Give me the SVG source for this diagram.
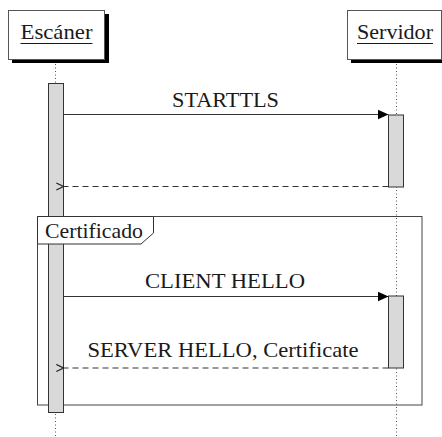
<svg xmlns="http://www.w3.org/2000/svg" width="442" height="437" viewBox="0 0 442 437">
  <style>
    .lbl { font-family: "Liberation Serif", "DejaVu Serif", serif; font-size: 21px; fill: #1a1a1a; }
    .head { fill: #ffffff; stroke: #555555; stroke-width: 1; }
    .shadow { fill: #000000; }
    .life { stroke: #555555; stroke-width: 1; stroke-dasharray: 1 2.5; fill: none; }
    .act { fill: #d9d9d9; stroke: #333333; stroke-width: 1; }
    .msg { stroke: #333333; stroke-width: 1.2; fill: none; }
    .ret { stroke: #333333; stroke-width: 1.2; fill: none; stroke-dasharray: 6 4; }
    .frame { fill: none; stroke: #444444; stroke-width: 1; }
    .ul { stroke: #1a1a1a; stroke-width: 1; }
  </style>
  <defs>
    <marker id="solidHead" viewBox="0 0 10 10" refX="10" refY="5" markerWidth="11" markerHeight="11" markerUnits="userSpaceOnUse" orient="auto">
      <path d="M0,0.5 L10,5 L0,9.5 Z" fill="#000000"/>
    </marker>
    <marker id="openHead" viewBox="0 0 10 10" refX="1" refY="5" markerWidth="9" markerHeight="9" markerUnits="userSpaceOnUse" orient="auto">
      <path d="M9,1 L1,5 L9,9" fill="none" stroke="#222222" stroke-width="1.3"/>
    </marker>
  </defs>

  <!-- lifelines -->
  <g id="lifelines">
    <line class="life" x1="55.5" y1="64" x2="55.5" y2="437"/>
    <line class="life" x1="396.5" y1="64" x2="396.5" y2="437"/>
  </g>

  <!-- participant: Escáner -->
  <g id="escaner">
    <rect class="shadow" x="12" y="14" width="97" height="49"/>
    <rect class="head" x="8.5" y="10.5" width="96" height="49"/>
    <text class="lbl" x="56.5" y="39" text-anchor="middle" textLength="72" lengthAdjust="spacingAndGlyphs">Escáner</text>
    <line class="ul" x1="20.5" y1="43.5" x2="92.5" y2="43.5"/>
  </g>

  <!-- participant: Servidor -->
  <g id="servidor">
    <rect class="shadow" x="351" y="14" width="95" height="49"/>
    <rect class="head" x="347.5" y="10.5" width="94" height="49"/>
    <text class="lbl" x="395" y="39" text-anchor="middle" textLength="76" lengthAdjust="spacingAndGlyphs">Servidor</text>
    <line class="ul" x1="357" y1="43.5" x2="433" y2="43.5"/>
  </g>

  <!-- combined fragment -->
  <g id="frame-certificado">
    <rect class="frame" x="37.5" y="216.5" width="384.5" height="188.5"/>
  </g>

  <!-- activations -->
  <g id="act-escaner">
    <rect class="act" x="48.5" y="83.5" width="15" height="329"/>
  </g>
  <g id="act-servidor-1">
    <rect class="act" x="388.5" y="115" width="15" height="72"/>
  </g>
  <g id="act-servidor-2">
    <rect class="act" x="388.5" y="296" width="15" height="72"/>
  </g>

  <!-- fragment label -->
  <g id="frame-label">
    <path d="M37.5,216.5 H153.5 V233 L141,244 H37.5 Z" fill="#ffffff" stroke="#333333" stroke-width="1"/>
    <text class="lbl" x="45" y="238" textLength="98" lengthAdjust="spacingAndGlyphs">Certificado</text>
  </g>

  <!-- messages -->
  <g id="connectors">
    <line class="msg" x1="63.5" y1="114.5" x2="388.5" y2="114.5" marker-end="url(#solidHead)"/>
    <line class="ret" x1="388.5" y1="186.5" x2="63.5" y2="186.5" marker-end="url(#openHead)"/>
    <line class="msg" x1="63.5" y1="296.5" x2="388.5" y2="296.5" marker-end="url(#solidHead)"/>
    <line class="ret" x1="388.5" y1="368" x2="63.5" y2="368" marker-end="url(#openHead)"/>
  </g>

  <g id="message-labels">
    <text class="lbl" x="225.5" y="107" text-anchor="middle" textLength="107" lengthAdjust="spacingAndGlyphs">STARTTLS</text>
    <text class="lbl" x="225" y="288" text-anchor="middle" textLength="160" lengthAdjust="spacingAndGlyphs">CLIENT HELLO</text>
    <text class="lbl" x="223" y="357" text-anchor="middle" textLength="271" lengthAdjust="spacingAndGlyphs">SERVER HELLO, Certificate</text>
  </g>
</svg>
